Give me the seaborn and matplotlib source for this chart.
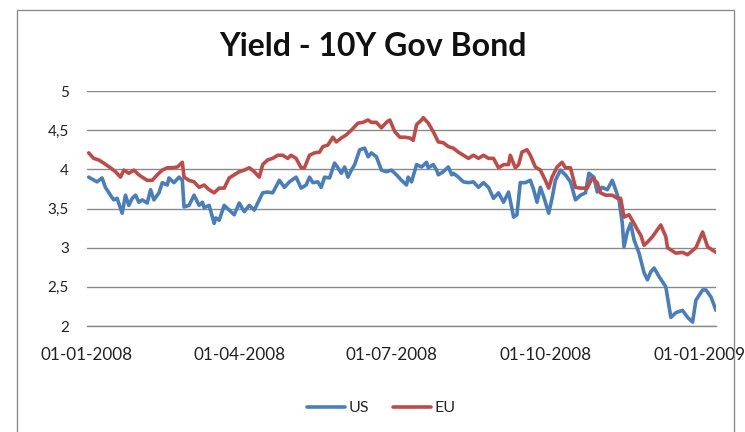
import matplotlib
matplotlib.use("Agg")
import matplotlib.pyplot as plt
from matplotlib.ticker import FuncFormatter, MultipleLocator
from matplotlib.patches import Rectangle
from matplotlib.lines import Line2D
import seaborn as sns
import pandas as pd

title = "Yield - 10Y Gov Bond"
series_names = ["US", "EU"]
tick_dates = ["2008-01-01", "2008-04-01", "2008-07-01", "2008-10-01", "2009-01-01"]
tick_labels = ["01-01-2008", "01-04-2008", "01-07-2008", "01-10-2008", "01-01-2009"]

us_dates = [
    "2008-01-02", "2008-01-07", "2008-01-10", "2008-01-12", "2008-01-15", "2008-01-17", "2008-01-19",
    "2008-01-22", "2008-01-24", "2008-01-26", "2008-01-28", "2008-01-30", "2008-02-01", "2008-02-03",
    "2008-02-06", "2008-02-08", "2008-02-10", "2008-02-13", "2008-02-15", "2008-02-18", "2008-02-19",
    "2008-02-22", "2008-02-25", "2008-02-27", "2008-02-28", "2008-03-02", "2008-03-05", "2008-03-08",
    "2008-03-10", "2008-03-11", "2008-03-14", "2008-03-17", "2008-03-18", "2008-03-20", "2008-03-23",
    "2008-03-26", "2008-03-29", "2008-04-01", "2008-04-04", "2008-04-07", "2008-04-10", "2008-04-15",
    "2008-04-18", "2008-04-21", "2008-04-25", "2008-04-28", "2008-05-01", "2008-05-05", "2008-05-08",
    "2008-05-11", "2008-05-13", "2008-05-15", "2008-05-18", "2008-05-20", "2008-05-22", "2008-05-25",
    "2008-05-28", "2008-05-30", "2008-06-01", "2008-06-03", "2008-06-05", "2008-06-07", "2008-06-09",
    "2008-06-12", "2008-06-15", "2008-06-17", "2008-06-19", "2008-06-22", "2008-06-25", "2008-06-28",
    "2008-07-01", "2008-07-04", "2008-07-07", "2008-07-10", "2008-07-11", "2008-07-13", "2008-07-16",
    "2008-07-19", "2008-07-22", "2008-07-23", "2008-07-26", "2008-07-28", "2008-07-29", "2008-08-01",
    "2008-08-04", "2008-08-06", "2008-08-07", "2008-08-10", "2008-08-13", "2008-08-16", "2008-08-19",
    "2008-08-22", "2008-08-25", "2008-08-28", "2008-08-31", "2008-09-03", "2008-09-06", "2008-09-09",
    "2008-09-12", "2008-09-14", "2008-09-16", "2008-09-19", "2008-09-22", "2008-09-24", "2008-09-26",
    "2008-09-28", "2008-09-30", "2008-10-03", "2008-10-05", "2008-10-07", "2008-10-10", "2008-10-13",
    "2008-10-16", "2008-10-19", "2008-10-22", "2008-10-25", "2008-10-27", "2008-10-30", "2008-11-01",
    "2008-11-04", "2008-11-07", "2008-11-10", "2008-11-12", "2008-11-14", "2008-11-16", "2008-11-17",
    "2008-11-19", "2008-11-21", "2008-11-23", "2008-11-26", "2008-11-29", "2008-12-01", "2008-12-03",
    "2008-12-05", "2008-12-08", "2008-12-12", "2008-12-15", "2008-12-18", "2008-12-22", "2008-12-25",
    "2008-12-28", "2008-12-30", "2009-01-03", "2009-01-05", "2009-01-08", "2009-01-11",
]
us_values = [
    3.90, 3.84, 3.89, 3.77, 3.67, 3.61, 3.63,
    3.44, 3.67, 3.54, 3.63, 3.67, 3.58, 3.61,
    3.57, 3.74, 3.61, 3.70, 3.83, 3.80, 3.89,
    3.83, 3.90, 3.86, 3.52, 3.54, 3.67, 3.54,
    3.58, 3.51, 3.54, 3.31, 3.38, 3.35, 3.54,
    3.48, 3.42, 3.57, 3.46, 3.54, 3.48, 3.70,
    3.71, 3.70, 3.86, 3.77, 3.84, 3.90, 3.76,
    3.80, 3.90, 3.83, 3.84, 3.77, 3.90, 3.89,
    4.08, 4.02, 3.95, 4.03, 3.90, 3.99, 4.06,
    4.25, 4.27, 4.16, 4.21, 4.16, 3.99, 3.97,
    3.99, 3.93, 3.86, 3.80, 3.90, 3.84, 4.06,
    4.03, 4.09, 4.02, 4.06, 3.99, 3.93, 3.97,
    4.03, 3.93, 3.95, 3.90, 3.84, 3.83, 3.84,
    3.77, 3.83, 3.77, 3.63, 3.70, 3.58, 3.71,
    3.39, 3.42, 3.83, 3.83, 3.86, 3.74, 3.58,
    3.77, 3.65, 3.44, 3.63, 3.86, 3.99, 3.93,
    3.84, 3.61, 3.67, 3.70, 3.95, 3.90, 3.71,
    3.77, 3.74, 3.86, 3.74, 3.61, 3.31, 3.01,
    3.20, 3.31, 3.10, 2.93, 2.68, 2.59, 2.69,
    2.74, 2.63, 2.50, 2.11, 2.17, 2.20, 2.11,
    2.05, 2.33, 2.46, 2.46, 2.37, 2.20,
]

eu_dates = [
    "2008-01-02", "2008-01-05", "2008-01-08", "2008-01-11", "2008-01-15", "2008-01-18", "2008-01-21",
    "2008-01-23", "2008-01-26", "2008-01-29", "2008-02-01", "2008-02-03", "2008-02-06", "2008-02-09",
    "2008-02-12", "2008-02-15", "2008-02-18", "2008-02-21", "2008-02-24", "2008-02-27", "2008-02-28",
    "2008-03-02", "2008-03-05", "2008-03-08", "2008-03-11", "2008-03-14", "2008-03-17", "2008-03-20",
    "2008-03-23", "2008-03-26", "2008-03-29", "2008-04-01", "2008-04-04", "2008-04-07", "2008-04-10",
    "2008-04-13", "2008-04-15", "2008-04-18", "2008-04-21", "2008-04-24", "2008-04-27", "2008-04-30",
    "2008-05-02", "2008-05-05", "2008-05-08", "2008-05-10", "2008-05-13", "2008-05-16", "2008-05-19",
    "2008-05-21", "2008-05-24", "2008-05-27", "2008-05-29", "2008-06-01", "2008-06-04", "2008-06-07",
    "2008-06-11", "2008-06-14", "2008-06-17", "2008-06-19", "2008-06-22", "2008-06-25", "2008-06-28",
    "2008-06-30", "2008-07-03", "2008-07-06", "2008-07-09", "2008-07-12", "2008-07-14", "2008-07-16",
    "2008-07-19", "2008-07-20", "2008-07-23", "2008-07-26", "2008-07-29", "2008-08-01", "2008-08-04",
    "2008-08-07", "2008-08-10", "2008-08-13", "2008-08-16", "2008-08-19", "2008-08-22", "2008-08-25",
    "2008-08-28", "2008-08-31", "2008-09-03", "2008-09-06", "2008-09-09", "2008-09-10", "2008-09-13",
    "2008-09-15", "2008-09-17", "2008-09-20", "2008-09-22", "2008-09-25", "2008-09-28", "2008-10-01",
    "2008-10-03", "2008-10-05", "2008-10-08", "2008-10-11", "2008-10-13", "2008-10-16", "2008-10-19",
    "2008-10-22", "2008-10-26", "2008-10-29", "2008-11-01", "2008-11-03", "2008-11-06", "2008-11-10",
    "2008-11-13", "2008-11-15", "2008-11-17", "2008-11-20", "2008-11-23", "2008-11-25", "2008-11-27",
    "2008-11-29", "2008-12-01", "2008-12-04", "2008-12-07", "2008-12-09", "2008-12-12", "2008-12-13",
    "2008-12-18", "2008-12-22", "2008-12-25", "2008-12-30", "2009-01-03", "2009-01-06", "2009-01-11",
]
eu_values = [
    4.21, 4.14, 4.12, 4.08, 4.02, 3.97, 3.90,
    3.99, 3.95, 3.99, 3.93, 3.90, 3.86, 3.86,
    3.93, 3.99, 4.02, 4.02, 4.03, 4.09, 3.90,
    3.86, 3.84, 3.77, 3.80, 3.74, 3.70, 3.76,
    3.76, 3.89, 3.93, 3.97, 3.99, 4.02, 3.97,
    3.90, 4.06, 4.12, 4.14, 4.18, 4.18, 4.14,
    4.18, 4.14, 4.02, 4.02, 4.18, 4.21, 4.22,
    4.29, 4.31, 4.41, 4.35, 4.40, 4.44, 4.50,
    4.59, 4.60, 4.63, 4.60, 4.60, 4.53, 4.60,
    4.63, 4.48, 4.41, 4.41, 4.40, 4.37, 4.57,
    4.63, 4.66, 4.59, 4.48, 4.35, 4.34, 4.29,
    4.27, 4.22, 4.18, 4.14, 4.18, 4.14, 4.18,
    4.14, 4.14, 4.02, 4.06, 4.06, 4.18, 4.02,
    4.06, 4.22, 4.25, 4.18, 4.03, 3.99, 3.86,
    3.76, 3.90, 4.03, 4.09, 4.02, 4.02, 3.77,
    3.76, 3.76, 3.89, 3.83, 3.70, 3.67, 3.67,
    3.63, 3.63, 3.39, 3.42, 3.31, 3.23, 3.16,
    3.03, 3.07, 3.14, 3.23, 3.29, 3.14, 3.00,
    2.93, 2.94, 2.91, 3.00, 3.20, 3.01, 2.94,
]

colors = {"US": "#4A7EBB", "EU": "#BE4B48"}

df = pd.concat([
    pd.DataFrame({"date": pd.to_datetime(us_dates), "value": us_values, "series": "US"}),
    pd.DataFrame({"date": pd.to_datetime(eu_dates), "value": eu_values, "series": "EU"}),
], ignore_index=True)

sns.set_theme(style="white")
plt.rcParams["font.family"] = ["Lato", "DejaVu Sans"]

fig = plt.figure(figsize=(7.45, 4.32), dpi=100)
ax = fig.add_axes([87 / 745, 1 - 326 / 432, (716 - 87) / 745, (326 - 91) / 432])

sns.lineplot(data=df, x="date", y="value", hue="series", hue_order=series_names,
             palette=colors, linewidth=2.6, estimator=None, ax=ax, legend=False)

ax.set_ylim(2, 5)
ax.set_xlim(pd.Timestamp("2008-01-01"), pd.Timestamp("2009-01-11"))
ax.yaxis.set_major_locator(MultipleLocator(0.5))
ax.yaxis.set_major_formatter(FuncFormatter(lambda v, _: f"{v:g}".replace(".", ",")))
ax.set_xticks(pd.to_datetime(tick_dates))
ax.set_xticklabels(tick_labels)
ax.set_xlabel("")
ax.set_ylabel("")
ax.grid(False)
ax.yaxis.grid(True, color="#8a8a8a", linewidth=1.0)
ax.set_axisbelow(True)
for s in ["top", "right", "left"]:
    ax.spines[s].set_visible(False)
ax.spines["bottom"].set_color("#8a8a8a")
ax.spines["bottom"].set_linewidth(1.0)
ax.tick_params(axis="both", length=0, colors="#222222")
ax.tick_params(axis="x", pad=15, labelsize=12.3)
ax.tick_params(axis="y", pad=13, labelsize=11)
for lbl in ax.get_xticklabels():
    lbl.set_clip_on(False)

fig.text(0.5, 1 - 47 / 432, title, ha="center", va="center", fontsize=23,
         fontweight="bold", color="#111111")

handles = [Line2D([0], [0], color=colors[n], lw=2.6) for n in series_names]
fig.legend(handles, series_names, loc="center", bbox_to_anchor=(381 / 745, 1 - 408 / 432),
           ncol=2, frameon=False, fontsize=11.5, handlelength=2.4, handletextpad=0.2,
           columnspacing=1.5)

fig.patches.append(Rectangle((17 / 745, -0.1), (734 - 17) / 745, 1 - 10 / 432 + 0.1,
                             transform=fig.transFigure, fill=False, edgecolor="#8c8c8c",
                             linewidth=1.0))

fig.savefig("out.png", dpi=100, facecolor="white")
